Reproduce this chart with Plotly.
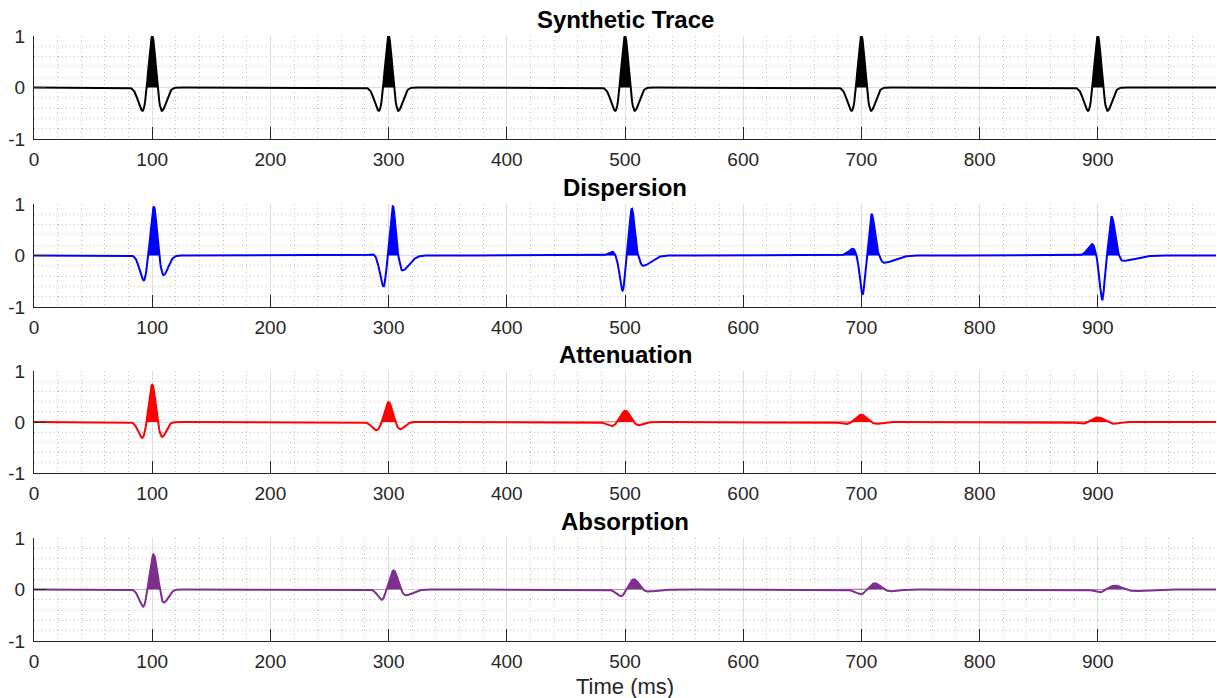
import numpy as np
import plotly.graph_objects as go

# Time axis (ms)
T_MAX = 1000
DT = 0.5

PANEL_TITLES = ["Synthetic Trace", "Dispersion", "Attenuation", "Absorption"]
PANEL_COLORS = ["#000000", "#0000ff", "#ff0000", "#7e2f8e"]
X_TITLE = "Time (ms)"

# Wavelet lobes per panel: (time ms, amplitude, left width ms, right width ms)
SYNTH_LOBES = [
    (92, -0.45, 3.8, 2.6), (100, 1.00, 2.6, 2.6), (108, -0.45, 2.6, 3.8),
    (292, -0.45, 3.8, 2.6), (300, 1.00, 2.6, 2.6), (308, -0.45, 2.6, 3.8),
    (492, -0.45, 3.8, 2.6), (500, 1.00, 2.6, 2.6), (508, -0.45, 2.6, 3.8),
    (692, -0.45, 3.8, 2.6), (700, 1.00, 2.6, 2.6), (708, -0.45, 2.6, 3.8),
    (892, -0.45, 3.8, 2.6), (900, 1.00, 2.6, 2.6), (908, -0.45, 2.6, 3.8),
]
DISP_LOBES = [
    (93.0, -0.48, 3.5, 2.2), (101.5, 0.95, 2.4, 2.0), (109.5, -0.38, 2.2, 4.0),
    (287.0, 0.02, 3.0, 2.0), (295.8, -0.60, 3.0, 2.0), (303.7, 0.96, 2.2, 2.0), (311.5, -0.29, 2.0, 6.0),
    (489.5, 0.07, 3.5, 2.0), (498.0, -0.68, 2.5, 1.8), (505.8, 0.91, 2.0, 2.2), (515.0, -0.20, 2.2, 7.0),
    (693.0, 0.13, 4.0, 2.0), (701.0, -0.76, 2.2, 1.8), (708.7, 0.80, 1.9, 2.6), (719.0, -0.14, 2.6, 9.0),
    (895.5, 0.22, 4.0, 2.0), (903.8, -0.86, 2.2, 1.8), (911.7, 0.75, 1.9, 2.8), (921.0, -0.10, 2.8, 11.0),
]
ATTEN_LOBES = [
    (91.7, -0.31, 3.5, 3.0), (100.0, 0.73, 2.8, 2.8), (108.2, -0.29, 3.0, 3.5),
    (290.0, -0.16, 4.0, 3.4), (300.0, 0.39, 3.3, 3.3), (309.5, -0.14, 3.4, 4.0),
    (489.0, -0.08, 4.5, 4.0), (500.3, 0.22, 4.0, 4.0), (511.0, -0.06, 4.0, 4.5),
    (688.0, -0.04, 5.0, 4.5), (700.0, 0.14, 5.0, 5.0), (711.0, -0.03, 4.5, 5.0),
    (888.0, -0.03, 5.0, 5.0), (900.0, 0.09, 5.6, 5.6), (912.0, -0.03, 5.0, 5.5),
]
ABSORB_LOBES = [
    (92.6, -0.33, 3.5, 2.2), (101.0, 0.68, 2.6, 3.0), (109.5, -0.25, 2.4, 4.0),
    (294.3, -0.20, 3.5, 2.5), (304.2, 0.37, 3.0, 3.4), (314.0, -0.11, 3.0, 6.0),
    (496.7, -0.13, 4.0, 3.0), (507.5, 0.20, 3.5, 4.0), (519.0, -0.04, 4.0, 8.0),
    (700.0, -0.09, 5.0, 3.0), (711.3, 0.12, 4.0, 5.0), (723.4, -0.03, 5.0, 8.0),
    (902.0, -0.055, 5.0, 3.5), (914.5, 0.075, 5.0, 6.0), (930.0, -0.03, 6.0, 10.0),
]

X_TICKS = [0, 100, 200, 300, 400, 500, 600, 700, 800, 900, 1000]
X_TICK_TEXT = ["0", "100", "200", "300", "400", "500", "600", "700", "800", "900", ""]
Y_TICKS = [-1, 0, 1]
Y_TICK_TEXT = ["-1", "0", "1"]

# Pixel geometry of the four axes boxes (top, bottom) in a 1217x698 page
W, H = 1217, 698
AX_LEFT, AX_RIGHT = 34, 1216
AX_ROWS = [(36, 139), (204, 307), (371, 473), (538, 641)]
X_TITLE_Y = 686


def lobe(t, c, wl, wr):
    s = np.where(t < c, wl, wr)
    return np.exp(-0.5 * ((t - c) / s) ** 2)


def build_trace(t, lobes):
    """Sum of one-sided Gaussian lobes whose peaks pass through the given amplitudes."""
    c = np.array([l[0] for l in lobes], dtype=float)
    a = np.array([l[1] for l in lobes], dtype=float)
    wl = np.array([l[2] for l in lobes], dtype=float)
    wr = np.array([l[3] for l in lobes], dtype=float)
    A = np.array([[float(lobe(np.array(c[i]), c[j], wl[j], wr[j])) for j in range(len(c))]
                  for i in range(len(c))])
    w = np.linalg.solve(A, a)
    y = np.zeros_like(t)
    for j in range(len(c)):
        y += w[j] * lobe(t, c[j], wl[j], wr[j])
    return y


t = np.arange(0, T_MAX + DT / 2, DT)
traces = [build_trace(t, L) for L in (SYNTH_LOBES, DISP_LOBES, ATTEN_LOBES, ABSORB_LOBES)]

fig = go.Figure()
TICK_COLOR = "#262626"
GRID_COLOR = "#dedede"
MINOR_COLOR = "#c2c2c2"
FONT = "Liberation Sans, Arial, Helvetica, sans-serif"

for k, (title, color, y) in enumerate(zip(PANEL_TITLES, PANEL_COLORS, traces)):
    xa = "x" if k == 0 else f"x{k + 1}"
    ya = "y" if k == 0 else f"y{k + 1}"
    # positive lobes filled
    fig.add_trace(go.Scatter(x=t, y=np.maximum(y, 0), mode="lines", line=dict(width=0, color=color),
                             fill="tozeroy", fillcolor=color, xaxis=xa, yaxis=ya,
                             hoverinfo="skip", showlegend=False))
    fig.add_trace(go.Scatter(x=t, y=y, mode="lines", line=dict(width=2, color=color),
                             xaxis=xa, yaxis=ya, showlegend=False, name=title))

    top, bot = AX_ROWS[k]
    ydom = [1 - bot / H, 1 - top / H]
    xdom = [AX_LEFT / W, AX_RIGHT / W]
    xkey = "xaxis" if k == 0 else f"xaxis{k + 1}"
    ykey = "yaxis" if k == 0 else f"yaxis{k + 1}"
    fig.update_layout({
        xkey: dict(domain=xdom, anchor=ya, range=[0, T_MAX], tickmode="array",
                   tickvals=X_TICKS, ticktext=X_TICK_TEXT, ticks="inside", ticklen=12,
                   tickwidth=1.3, tickcolor=TICK_COLOR, showline=True, linecolor=TICK_COLOR,
                   linewidth=1.3, showgrid=True, gridcolor=GRID_COLOR, gridwidth=1,
                   zeroline=False, ticklabelstandoff=3, automargin=False,
                   tickfont=dict(family=FONT, size=19, color=TICK_COLOR),
                   minor=dict(dtick=20, tick0=0, showgrid=True, gridcolor=MINOR_COLOR,
                              griddash="1px,3px", gridwidth=1, ticks="")),
        ykey: dict(domain=ydom, anchor=xa, range=[-1, 1], tickmode="array",
                   tickvals=Y_TICKS, ticktext=Y_TICK_TEXT, ticks="inside", ticklen=12,
                   tickwidth=1.3, tickcolor=TICK_COLOR, showline=True, linecolor=TICK_COLOR,
                   linewidth=1.3, showgrid=True, gridcolor=GRID_COLOR, gridwidth=1,
                   zeroline=False, ticklabelstandoff=4, automargin=False,
                   tickfont=dict(family=FONT, size=19, color=TICK_COLOR),
                   minor=dict(dtick=0.2, tick0=0, showgrid=True, gridcolor=MINOR_COLOR,
                              griddash="1px,3px", gridwidth=1, ticks="")),
    })
    fig.add_annotation(text=f"<b>{title}</b>", xref="paper", yref="paper",
                       x=(xdom[0] + xdom[1]) / 2, y=ydom[1], xanchor="center", yanchor="bottom",
                       yshift=1, showarrow=False,
                       font=dict(family=FONT, size=24, color="#000000"))

fig.add_annotation(text=X_TITLE, xref="paper", yref="paper",
                   x=(AX_LEFT + AX_RIGHT) / 2 / W, y=1 - X_TITLE_Y / H,
                   xanchor="center", yanchor="middle", showarrow=False,
                   font=dict(family=FONT, size=22, color=TICK_COLOR))

fig.update_layout(width=W, height=H, margin=dict(l=0, r=0, t=0, b=0),
                  paper_bgcolor="white", plot_bgcolor="white")

fig.write_html("out.html")
